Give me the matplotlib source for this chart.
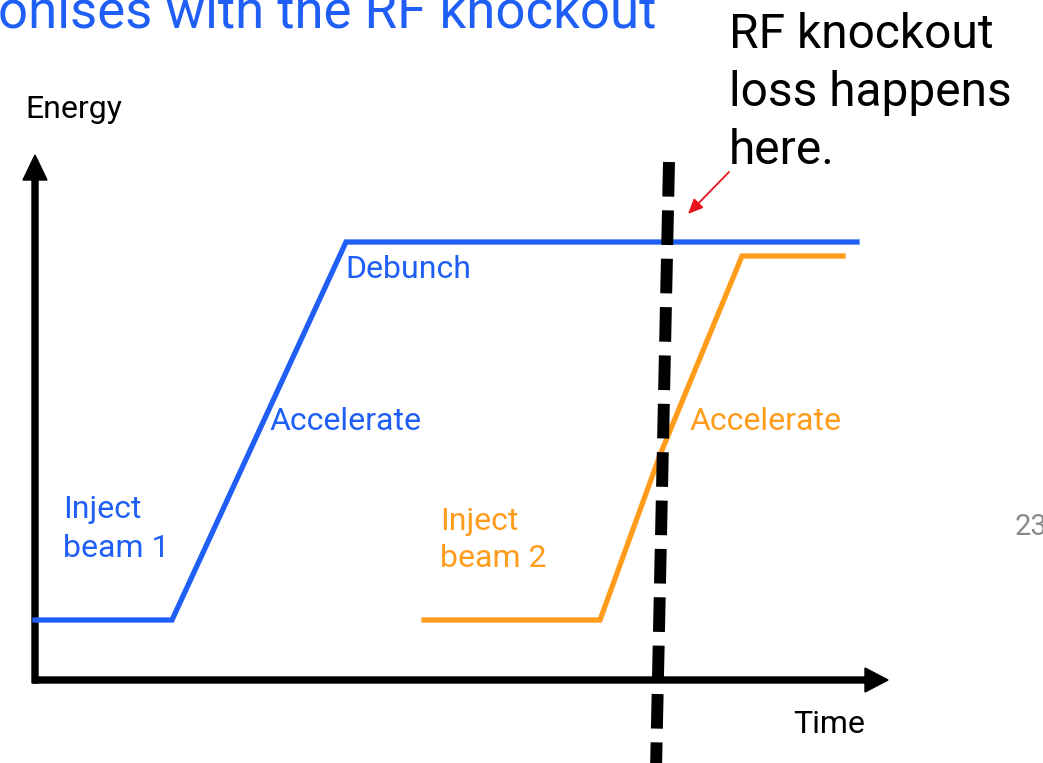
import matplotlib
matplotlib.use("Agg")
import matplotlib.pyplot as plt

plt.rcParams['font.family'] = ['Roboto', 'DejaVu Sans']

BLUE = "#1f5ff5"
ORANGE = "#ff9c1c"

# Data (time, energy) in arbitrary units measured from the axes origin
beam1_time = [0, 137, 311, 822]
beam1_energy = [60, 60, 438, 438]
beam2_time = [389, 565, 625, 707, 808]
beam2_energy = [60, 60, 225, 424, 424]
knockout_time = [634, 621]
knockout_energy = [518, -90]

fig = plt.figure(figsize=(10.43, 7.63), dpi=100)
ax = fig.add_axes([0, 0, 1, 1])
ax.set_xlim(-35, 1008)
ax.set_ylim(-83, 680)
ax.axis('off')

# axes arrows
ax.arrow(0, -3, 0, 528, width=6, head_width=24, head_length=25,
         length_includes_head=True, color='k', zorder=3)
ax.arrow(-2, 0, 855, 0, width=6, head_width=24, head_length=23,
         length_includes_head=True, color='k', zorder=3)

ax.plot(beam1_time, beam1_energy, color=BLUE, lw=3.8, solid_joinstyle='miter', zorder=4)
ax.plot(beam2_time, beam2_energy, color=ORANGE, lw=3.8, solid_joinstyle='miter', zorder=4)
ax.plot(knockout_time, knockout_energy, color='k', lw=8.6, dashes=(2.9, 1.15),
        dash_capstyle='butt', zorder=5)

# red arrow
ax.annotate('', xy=(653, 466), xytext=(694, 508),
            arrowprops=dict(arrowstyle='-|>,head_length=0.9,head_width=0.4',
                            color='#e8141b', lw=1.3, shrinkA=0, shrinkB=0))

fs = 23
ax.text(-10, 562, "Energy", fontsize=fs, color='k', ha='left', va='baseline')
ax.text(758, -53, "Time", fontsize=fs, color='k', ha='left', va='baseline')
ax.text(28, 162, "Inject", fontsize=fs, color=BLUE, ha='left', va='baseline')
ax.text(28, 123, "beam 1", fontsize=fs, color=BLUE, ha='left', va='baseline')
ax.text(234, 250, "Accelerate", fontsize=fs, color=BLUE, ha='left', va='baseline')
ax.text(310, 402, "Debunch", fontsize=fs, color=BLUE, ha='left', va='baseline')
ax.text(405, 150, "Inject", fontsize=fs, color=ORANGE, ha='left', va='baseline')
ax.text(405, 113, "beam 2", fontsize=fs, color=ORANGE, ha='left', va='baseline')
ax.text(654, 250, "Accelerate", fontsize=fs, color=ORANGE, ha='left', va='baseline')
ax.text(980, 145, "23", fontsize=21, color='#8a8a8a', ha='left', va='baseline')

ax.text(694, 632, "RF knockout", fontsize=34.5, color='k', ha='left', va='baseline')
ax.text(694, 574, "loss happens", fontsize=34.5, color='k', ha='left', va='baseline')
ax.text(694, 516, "here.", fontsize=34.5, color='k', ha='left', va='baseline')

ax.text(-37, 653, "onises with the RF knockout", fontsize=38, color=BLUE,
        ha='left', va='baseline')

fig.savefig("out.png", dpi=100)
